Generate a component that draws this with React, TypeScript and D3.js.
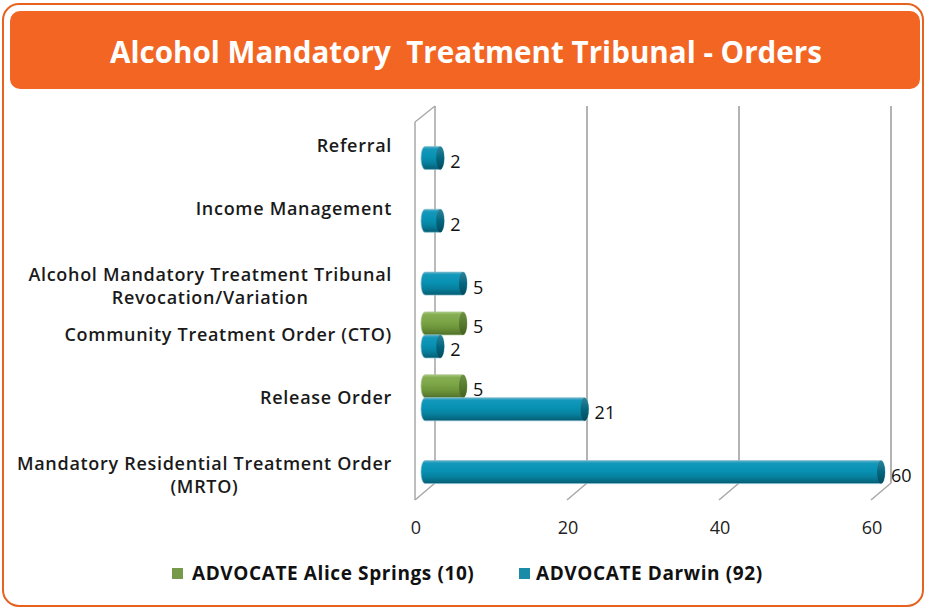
import React, { useEffect, useRef } from "react";
import * as d3 from "d3";

const categoryLines: string[][] = [
  ["Referral"],
  ["Income Management"],
  ["Alcohol Mandatory Treatment Tribunal", "Revocation/Variation"],
  ["Community Treatment Order (CTO)"],
  ["Release Order"],
  ["Mandatory Residential Treatment Order", "(MRTO)"],
];
const categories = categoryLines.map((l) => l.join(" "));
const aliceSprings: (number | null)[] = [null, null, null, 5, 5, null];
const darwin: (number | null)[] = [2, 2, 5, 2, 21, 60];
const seriesNames = ["ADVOCATE Alice Springs (10)", "ADVOCATE Darwin (92)"];
const xTicks = [0, 20, 40, 60];
const titleText = "Alcohol Mandatory  Treatment Tribunal - Orders";

export default function App() {
  const ref = useRef<SVGSVGElement>(null);

  useEffect(() => {
    const svg = d3.select(ref.current);
    svg.selectAll("*").remove();
    const defs = svg.append("defs");

    const grad = (id: string, stops: [number, string][]) => {
      const g = defs
        .append("linearGradient")
        .attr("id", id)
        .attr("x1", 0)
        .attr("y1", 0)
        .attr("x2", 0)
        .attr("y2", 1);
      stops.forEach(([o, c]) => g.append("stop").attr("offset", o).attr("stop-color", c));
    };
    grad("blueBody", [
      [0, "#5aafc6"],
      [0.12, "#1298ba"],
      [0.45, "#0891b3"],
      [0.7, "#07819f"],
      [0.9, "#066a83"],
      [1, "#05586c"],
    ]);
    grad("greenBody", [
      [0, "#a7c77e"],
      [0.12, "#84ae51"],
      [0.45, "#7aa446"],
      [0.7, "#6c9339"],
      [0.9, "#5a7d30"],
      [1, "#4b6927"],
    ]);
    grad("blueCap", [
      [0, "#2f8397"],
      [0.5, "#04667f"],
      [1, "#034b5d"],
    ]);
    grad("greenCap", [
      [0, "#6f9044"],
      [0.5, "#567b2d"],
      [1, "#456022"],
    ]);

    // frame
    svg
      .append("rect")
      .attr("x", 3)
      .attr("y", 4)
      .attr("width", 920)
      .attr("height", 602)
      .attr("rx", 16)
      .attr("fill", "#fff")
      .attr("stroke", "#E8621F")
      .attr("stroke-width", 2);

    svg
      .append("rect")
      .attr("x", 10)
      .attr("y", 11)
      .attr("width", 910)
      .attr("height", 78)
      .attr("rx", 10)
      .attr("fill", "#F36523");

    svg
      .append("text")
      .attr("x", 466)
      .attr("y", 63)
      .attr("text-anchor", "middle")
      .attr("font-family", "'Open Sans', sans-serif")
      .attr("font-weight", 700)
      .attr("font-size", 30)
      .attr("fill", "#fff")
      .attr("textLength", 712)
      .attr("lengthAdjust", "spacingAndGlyphs")
      .style("white-space", "pre")
      .text(titleText);

    // scales
    const x = d3.scaleLinear().domain([0, 60]).range([425, 881]); // mid depth
    const dx = 10;
    const dy = 8;
    const yTop = 106;
    const yBack = 483;
    const yCat = d3.scalePoint<string>().domain(categories).range([115, 492]).padding(0.5);
    const ySer = d3.scaleBand<string>().domain(seriesNames).range([-23, 23]).padding(0);

    const grid = svg.append("g");
    // side wall edges
    grid
      .append("line")
      .attr("x1", x(0) + dx)
      .attr("x2", x(0) + dx)
      .attr("y1", yTop)
      .attr("y2", yBack)
      .attr("stroke", "#8c8c8c")
      .attr("stroke-width", 1.2);
    grid
      .append("line")
      .attr("x1", x(0) - dx)
      .attr("x2", x(0) - dx)
      .attr("y1", yTop + 2 * dy)
      .attr("y2", yBack + 2 * dy + 1)
      .attr("stroke", "#a8a8a8")
      .attr("stroke-width", 1.5);
    grid
      .append("line")
      .attr("x1", x(0) - dx)
      .attr("x2", x(0) + dx)
      .attr("y1", yTop + 2 * dy)
      .attr("y2", yTop)
      .attr("stroke", "#a8a8a8")
      .attr("stroke-width", 1.5);

    xTicks.forEach((t) => {
      if (t > 0) {
        grid
          .append("line")
          .attr("x1", x(t) + dx)
          .attr("x2", x(t) + dx)
          .attr("y1", yTop)
          .attr("y2", yBack)
          .attr("stroke", "#b3b3b3")
          .attr("stroke-width", 2);
      }
      grid
        .append("line")
        .attr("x1", x(t) + dx)
        .attr("y1", yBack)
        .attr("x2", x(t) - dx)
        .attr("y2", yBack + 2 * dy + 1)
        .attr("stroke", "#a8a8a8")
        .attr("stroke-width", 1.5);
      grid
        .append("text")
        .attr("x", x(t) - dx + 1)
        .attr("y", 534)
        .attr("text-anchor", "middle")
        .attr("font-family", "'Open Sans', sans-serif")
        .attr("font-size", 18)
        .attr("fill", "#222")
        .text(String(t));
    });

    // category labels
    const labels = svg
      .append("g")
      .attr("font-family", "'Open Sans', sans-serif")
      .attr("font-weight", 600)
      .attr("font-size", 18)
      .attr("letter-spacing", 0.7)
      .attr("fill", "#1a1a1a");
    categoryLines.forEach((lines, i) => {
      const cy = yCat(categories[i])!;
      if (lines.length === 1) {
        labels
          .append("text")
          .attr("x", 392)
          .attr("y", cy + 6)
          .attr("text-anchor", "end")
          .text(lines[0]);
      } else {
        const t1 = labels
          .append("text")
          .attr("x", 392)
          .attr("y", cy + 9)
          .attr("text-anchor", "end")
          .text(lines[0]);
        const w = (t1.node() as SVGTextElement).getComputedTextLength();
        labels
          .append("text")
          .attr("x", 392 - w / 2)
          .attr("y", cy + 32)
          .attr("text-anchor", "middle")
          .text(lines[1]);
      }
    });

    // bars
    const series = [
      { name: seriesNames[0], values: aliceSprings, body: "url(#greenBody)", cap: "url(#greenCap)", halo: "rgba(170,200,140,0.7)" },
      { name: seriesNames[1], values: darwin, body: "url(#blueBody)", cap: "url(#blueCap)", halo: "rgba(130,190,210,0.7)" },
    ];
    const bars = svg.append("g");
    const h = ySer.bandwidth();
    const rx = 4;
    categories.forEach((c, i) => {
      series.forEach((s) => {
        const v = s.values[i];
        if (v == null) return;
        const yt = yCat(c)! + ySer(s.name)!;
        const xa = x(0);
        const xb = x(v);
        const p = `M${xa},${yt} L${xb},${yt} A${rx},${h / 2} 0 0 1 ${xb},${yt + h} L${xa},${yt + h} A${rx},${h / 2} 0 0 1 ${xa},${yt} Z`;
        bars
          .append("path")
          .attr("d", p)
          .attr("fill", s.body)
          .attr("stroke", s.halo)
          .attr("stroke-width", 1);
        bars
          .append("ellipse")
          .attr("cx", xb)
          .attr("cy", yt + h / 2)
          .attr("rx", rx)
          .attr("ry", h / 2)
          .attr("fill", s.cap);
        bars
          .append("text")
          .attr("x", xb + 10)
          .attr("y", yt + h / 2 + 10)
          .attr("font-family", "'Open Sans', sans-serif")
          .attr("font-size", 18)
          .attr("fill", "#111")
          .text(String(v));
      });
    });

    // legend
    const legend = svg
      .append("g")
      .attr("font-family", "'Open Sans', sans-serif")
      .attr("font-weight", 700)
      .attr("font-size", 19)
      .attr("letter-spacing", 0.6)
      .attr("fill", "#111");
    const legendItems = [
      { name: seriesNames[0], color: "#77994A", sx: 172, tx: 192 },
      { name: seriesNames[1], color: "#1A8CA8", sx: 519, tx: 536 },
    ];
    legendItems.forEach((l) => {
      legend
        .append("rect")
        .attr("x", l.sx)
        .attr("y", 568)
        .attr("width", 11)
        .attr("height", 11)
        .attr("fill", l.color);
      legend.append("text").attr("x", l.tx).attr("y", 580).text(l.name);
    });
  }, []);

  return (
    <svg
      ref={ref}
      width={925}
      height={608}
      style={{ position: "absolute", left: 0, top: 0, background: "#fff" }}
    />
  );
}
